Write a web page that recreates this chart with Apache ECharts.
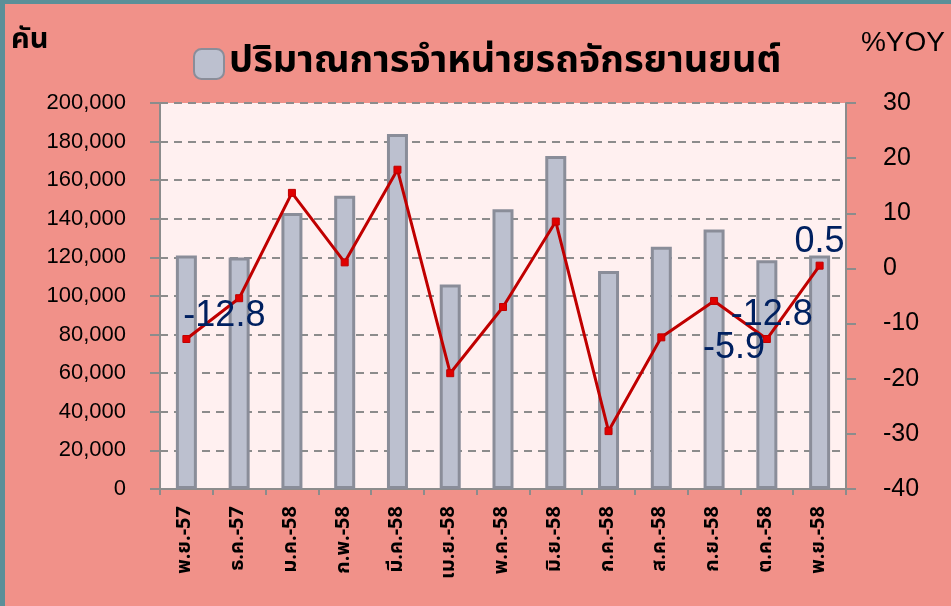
<!DOCTYPE html>
<html>
<head>
<meta charset="utf-8">
<script src="https://cdn.jsdelivr.net/npm/echarts@6/dist/echarts.min.js"></script>
<style>
  html, body { margin: 0; padding: 0; background: #5b8f98; }
  #chart { position: absolute; left: 5px; top: 4px; width: 946px; height: 602px; }
</style>
</head>
<body>
<div id="chart"></div>
<script>
// เดือน
const months = ['พ.ย.-57', 'ธ.ค.-57', 'ม.ค.-58', 'ก.พ.-58', 'มี.ค.-58', 'เม.ย.-58', 'พ.ค.-58',
  'มิ.ย.-58', 'ก.ค.-58', 'ส.ค.-58', 'ก.ย.-58', 'ต.ค.-58', 'พ.ย.-58'];
// ปริมาณการจำหน่าย (คัน)
const sales = [121000, 120000, 143000, 152000, 184000, 106000, 145000,
  172500, 113000, 125500, 134500, 118500, 121000];
// %YOY
const yoy = [-12.8, -5.4, 13.7, 1.1, 17.9, -19.0, -7.0, 8.5, -29.5, -12.5, -5.9, -12.8, 0.5];
// which points get a value label, and where it sits
const labelled = { 0: [38, -23], 10: [20, 47], 11: [5, -24], 12: [0, -24] };

const thai = "Tahoma, 'Noto Sans Thai', 'Noto Sans', sans-serif";
const arial = "'Liberation Sans', Arial, sans-serif";

const yoyData = yoy.map((v, i) => {
  if (!(i in labelled)) return v;
  return {
    value: v,
    label: {
      show: true, position: 'inside', offset: labelled[i],
      color: '#002060', fontSize: 36, fontFamily: arial
    }
  };
});

const chart = echarts.init(document.getElementById('chart'));
chart.setOption({
  backgroundColor: '#f19189',
  animation: false,
  legend: {
    data: ['ปริมาณการจำหน่ายรถจักรยานยนต์'],
    left: 183, top: 36,
    itemWidth: 30, itemHeight: 30, itemGap: 12,
    textStyle: { fontSize: 38, fontWeight: 'bold', color: '#000', fontFamily: thai }
  },
  graphic: [
    { type: 'text', left: 6, top: 24, style: { text: 'คัน', fill: '#000', font: 'bold 29px ' + thai } },
    { type: 'text', right: 6, top: 25, style: { text: '%YOY', fill: '#000', font: '28px ' + arial } }
  ],
  grid: {
    left: 155, right: 105, top: 99, bottom: 117,
    show: true, backgroundColor: '#fff0f0', borderWidth: 0
  },
  xAxis: {
    type: 'category',
    data: months,
    boundaryGap: true,
    axisLine: { lineStyle: { color: '#8c8c8c', width: 2 } },
    axisTick: { show: true, length: 6, lineStyle: { color: '#8c8c8c', width: 2 } },
    axisLabel: { rotate: 90, margin: 17, fontSize: 20, fontWeight: 'bold', color: '#000', fontFamily: thai }
  },
  yAxis: [
    {
      type: 'value', min: 0, max: 200000, interval: 20000,
      axisLine: { show: true, lineStyle: { color: '#8c8c8c', width: 2 } },
      axisTick: { show: true, length: 10, lineStyle: { color: '#8c8c8c', width: 2 } },
      axisLabel: {
        margin: 34, fontSize: 22, color: '#000', fontFamily: arial,
        formatter: v => v.toLocaleString('en-US')
      },
      splitLine: { show: true, lineStyle: { color: '#8c8c8c', width: 2, type: [8, 6] } }
    },
    {
      type: 'value', min: -40, max: 30, interval: 10,
      position: 'right',
      axisLine: { show: true, lineStyle: { color: '#8c8c8c', width: 2 } },
      axisTick: { show: true, length: 10, lineStyle: { color: '#8c8c8c', width: 2 } },
      axisLabel: { margin: 37, fontSize: 25, color: '#000', fontFamily: arial },
      splitLine: { show: false }
    }
  ],
  series: [
    {
      name: 'ปริมาณการจำหน่ายรถจักรยานยนต์',
      type: 'bar',
      data: sales,
      barWidth: 21,
      itemStyle: { color: '#bcc0cf', borderColor: '#8a8d99', borderWidth: 3 }
    },
    {
      name: '%YOY',
      type: 'line',
      yAxisIndex: 1,
      data: yoyData,
      symbol: 'rect',
      symbolSize: 7,
      lineStyle: { color: '#c00000', width: 3 },
      itemStyle: { color: '#e00000', borderColor: '#c00000', borderWidth: 1 },
      z: 5
    }
  ]
});
</script>
</body>
</html>
